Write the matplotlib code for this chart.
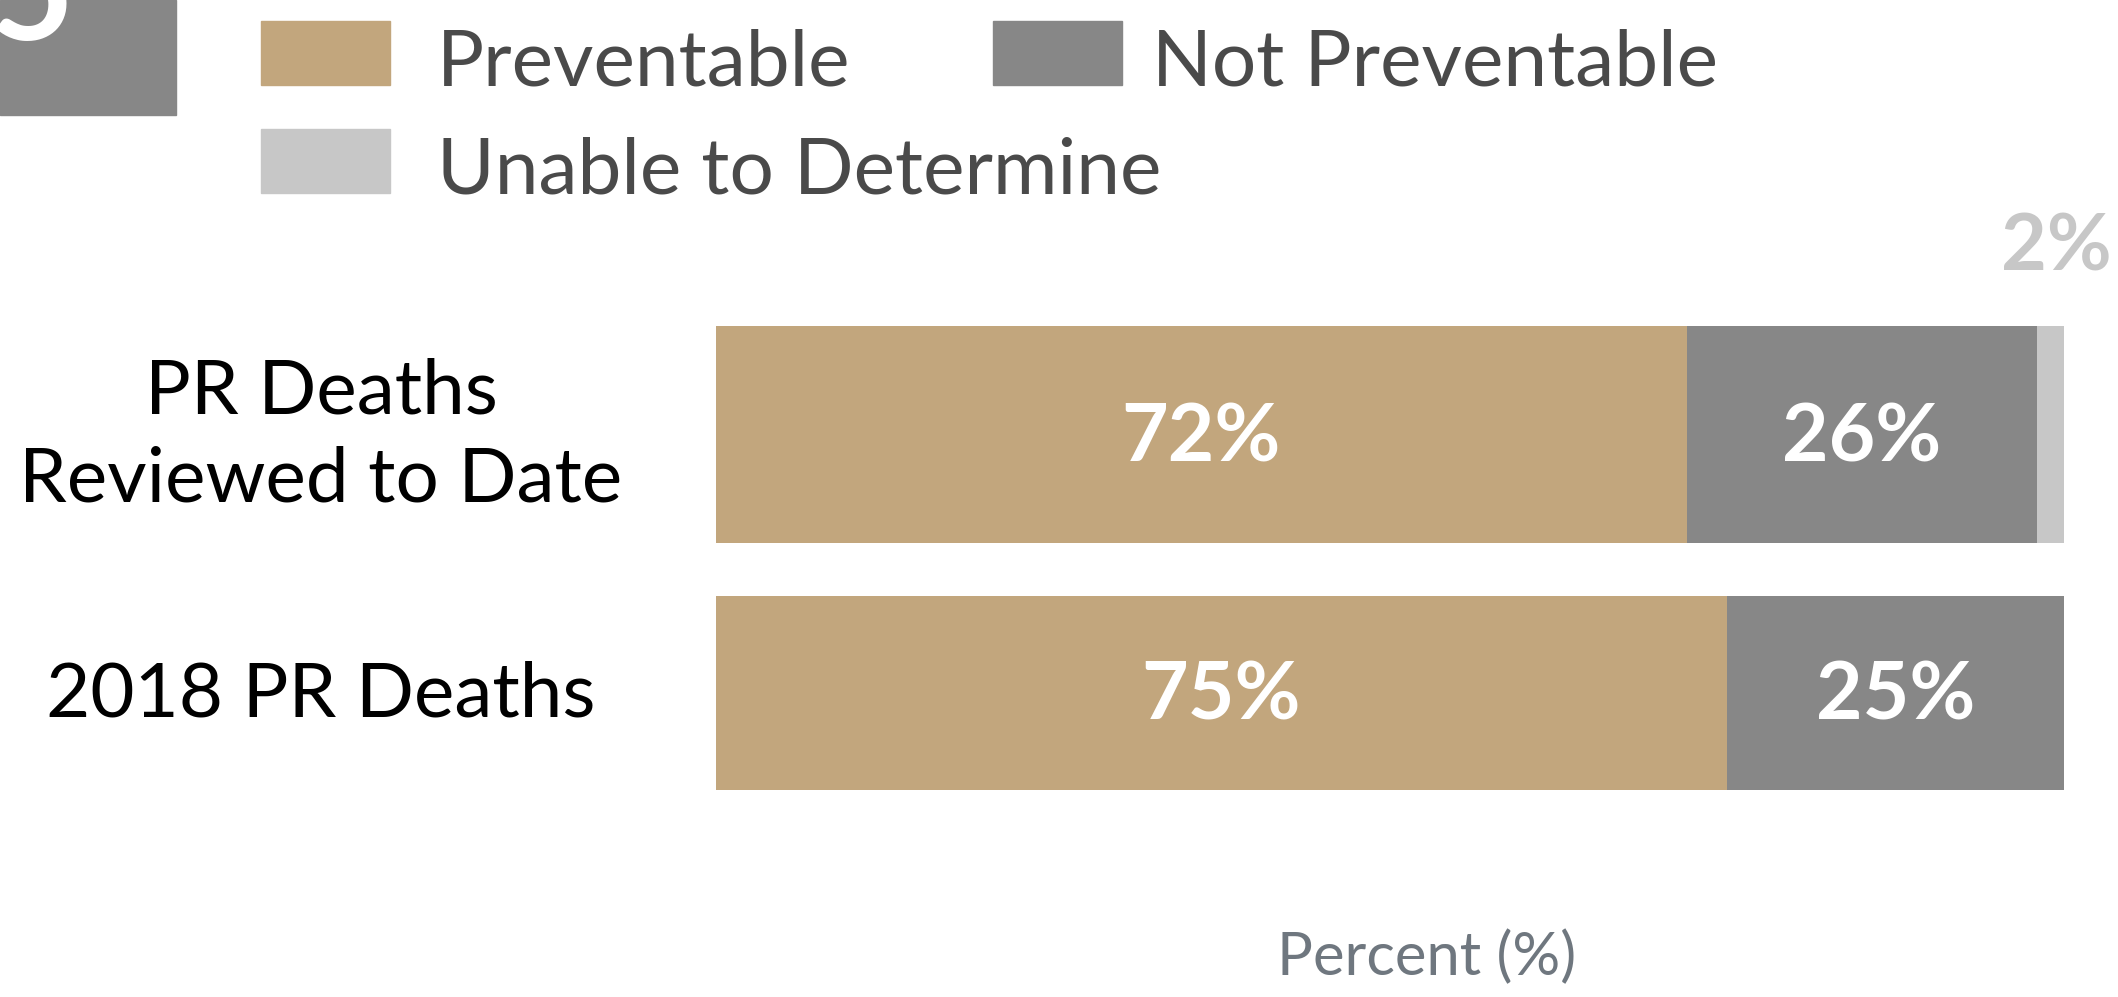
import matplotlib.pyplot as plt
import matplotlib.transforms as mtransforms
from matplotlib.patches import Rectangle

categories = ['PR Deaths\nReviewed to Date', '2018 PR Deaths']
preventable = [72, 75]
not_preventable = [26, 25]
unable = [2, 0]
series_names = ['Preventable', 'Not Preventable', 'Unable to Determine']
colors = ['#c2a67d', '#878787', '#c7c7c7']

W, H = 2118, 997
plt.rcParams['font.family'] = ['Lato', 'DejaVu Sans']
fig = plt.figure(figsize=(W / 100, H / 100), dpi=100, facecolor='white')


def fx(x):
    return x / W


def fy(y):
    return 1 - y / H


# main axes (bars), pixel layout
ax = fig.add_axes([fx(716), fy(822), 1348 / W, 517 / H])
ypos = [0, 1]
bar_h = [0.84, 0.75]

lefts = [0, 0]
bars = []
for vals, col in zip([preventable, not_preventable, unable], colors):
    b = ax.barh(ypos, vals, left=lefts, height=bar_h, color=col, linewidth=0)
    bars.append(b)
    lefts = [l + v for l, v in zip(lefts, vals)]

ax.set_xlim(0, 100)
ax.set_ylim(1.5, -0.5)

# value labels
for b in bars:
    for rect in b:
        w = rect.get_width()
        if w <= 0:
            continue
        cx = rect.get_x() + w / 2
        cy = rect.get_y() + rect.get_height() / 2
        if w >= 5:
            ax.annotate('%d%%' % round(w), xy=(cx, cy), xytext=(0, -3),
                        textcoords='offset points', color='white', fontsize=58,
                        fontweight='bold', ha='center', va='center')
        else:
            ax.annotate('%d%%' % round(w), xy=(cx, rect.get_y()),
                        xytext=(4, 40), textcoords='offset points',
                        color='#c7c7c7', fontsize=57, fontweight='bold',
                        ha='center', va='baseline', annotation_clip=False)

# category labels, centred in the left margin
trans = mtransforms.blended_transform_factory(ax.transAxes, ax.transData)
for y, cat in zip(ypos, categories):
    ax.annotate(cat, xy=(-(716 - 321) / 1348, y), xycoords=trans,
                xytext=(0, -1.5), textcoords='offset points', fontsize=55,
                color='black', ha='center', va='center', linespacing=1.34)

ax.set_yticks([])
ax.set_xticks([])
for s in ax.spines.values():
    s.set_visible(False)

ax.set_xlabel('Percent (%)', fontsize=43, color='#6f777f')
ax.xaxis.set_label_coords(0.527, -(975 - 822) / 517)
ax.xaxis.label.set_va('baseline')

# legend drawn by hand (entries not laid out on a regular grid)
leg_pos = [(261, 85, 176), (993, 85, 159), (261, 193, 176)]
for name, col, (x0, base, gap) in zip(series_names, colors, leg_pos):
    fig.patches.append(Rectangle((fx(x0), fy(base)), 129 / W, 64 / H,
                                 transform=fig.transFigure, color=col))
    fig.text(fx(x0 + gap), fy(base), name, fontsize=56.5, color='#4a4a4a',
             ha='left', va='baseline')

# cropped section badge in the corner
fig.patches.append(Rectangle((0, fy(115)), 176 / W, 115 / H,
                             transform=fig.transFigure, color='#878787'))
fig.text(fx(32), fy(40), '5', fontsize=105, color='white', fontweight='bold',
         ha='center', va='baseline')

fig.savefig('out.png', dpi=100, facecolor='white')
